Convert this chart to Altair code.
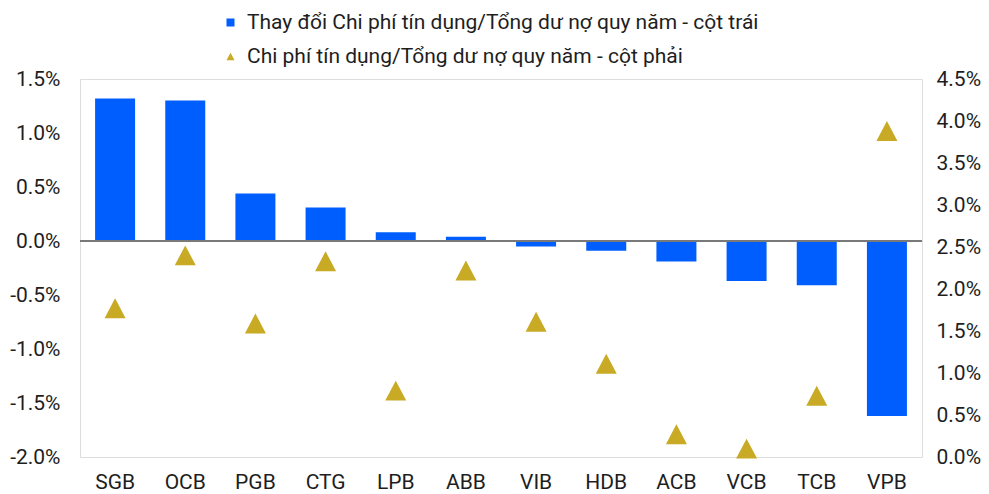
import altair as alt
import pandas as pd

banks = ["SGB", "OCB", "PGB", "CTG", "LPB", "ABB", "VIB", "HDB", "ACB", "VCB", "TCB", "VPB"]
change_pct = [1.32, 1.30, 0.44, 0.31, 0.08, 0.04, -0.05, -0.09, -0.19, -0.37, -0.41, -1.62]
cost_pct = [1.77, 2.40, 1.59, 2.33, 0.79, 2.22, 1.61, 1.11, 0.27, 0.10, 0.73, 3.88]
left_ticks = [-2.0, -1.5, -1.0, -0.5, 0.0, 0.5, 1.0, 1.5]
right_ticks = [0.0, 0.5, 1.0, 1.5, 2.0, 2.5, 3.0, 3.5, 4.0, 4.5]
s_bar = "Thay đổi Chi phí tín dụng/Tổng dư nợ quy năm - cột trái"
s_pt = "Chi phí tín dụng/Tổng dư nợ quy năm - cột phải"

BLUE = "#005EFF"
GOLD = "#C8AA24"
TXT = "#1e1e1e"
FONT = "Roboto"
FS = 21
TRI = "M0,-0.95L-1,0.95L1,0.95Z"

df = pd.DataFrame({"bank": banks, "chg": change_pct, "cost": cost_pct})

label_expr = "replace(format(datum.value, '.1f'), '\u2212', '-') + '%'"

x_enc = alt.X(
    "bank:N",
    sort=banks,
    title=None,
    scale=alt.Scale(paddingInner=0.42, paddingOuter=0.21),
    axis=alt.Axis(labelAngle=0, domain=False, ticks=False, labelPadding=14,
                  labelFontSize=FS, labelFont=FONT, labelColor=TXT),
)


def make_legend():
    return alt.Legend(orient="none", legendX=140, legendY=-67, title=None,
                      labelFontSize=FS, labelFont=FONT, labelColor=TXT,
                      symbolSize=64, rowPadding=12, labelOffset=6, padding=0,
                      symbolOpacity=1, labelLimit=900, symbolStrokeWidth=0)


color_enc = alt.Color(
    "series:N",
    scale=alt.Scale(domain=[s_bar, s_pt], range=[BLUE, GOLD]),
    legend=make_legend(),
)

base = alt.Chart(df)

bars = base.transform_calculate(series=f"'{s_bar}'").mark_bar(size=40).encode(
    x=x_enc,
    y=alt.Y("chg:Q", title=None,
            scale=alt.Scale(domain=[-2.0, 1.5], nice=False, zero=False),
            axis=alt.Axis(values=left_ticks, labelExpr=label_expr, grid=False,
                          domain=False, ticks=False, labelPadding=20,
                          labelFontSize=FS, labelFont=FONT, labelColor=TXT)),
    color=color_enc,
)

zero = base.mark_rule(color="#7a7a7a", strokeWidth=1.5).encode(y=alt.datum(0))

left = alt.layer(bars, zero)

points = base.transform_calculate(series=f"'{s_pt}'").mark_point(
    filled=True, opacity=1, size=441, strokeWidth=0
).encode(
    x=x_enc,
    y=alt.Y("cost:Q", title=None,
            scale=alt.Scale(domain=[0.0, 4.5], nice=False, zero=False),
            axis=alt.Axis(orient="right", values=right_ticks, labelExpr=label_expr,
                          grid=False, domain=False, ticks=False, labelPadding=14,
                          labelFontSize=FS, labelFont=FONT, labelColor=TXT)),
    color=color_enc,
    shape=alt.Shape("series:N",
                    scale=alt.Scale(domain=[s_bar, s_pt], range=["square", TRI]),
                    legend=make_legend()),
)

chart = alt.layer(left, points).resolve_scale(y="independent").properties(
    width=842, height=378,
    padding={"left": 1, "top": 4, "right": 0, "bottom": 0},
).configure_view(stroke=None).configure(background="white")

chart.save("out.html", embed_options={"renderer": "svg", "actions": False})
